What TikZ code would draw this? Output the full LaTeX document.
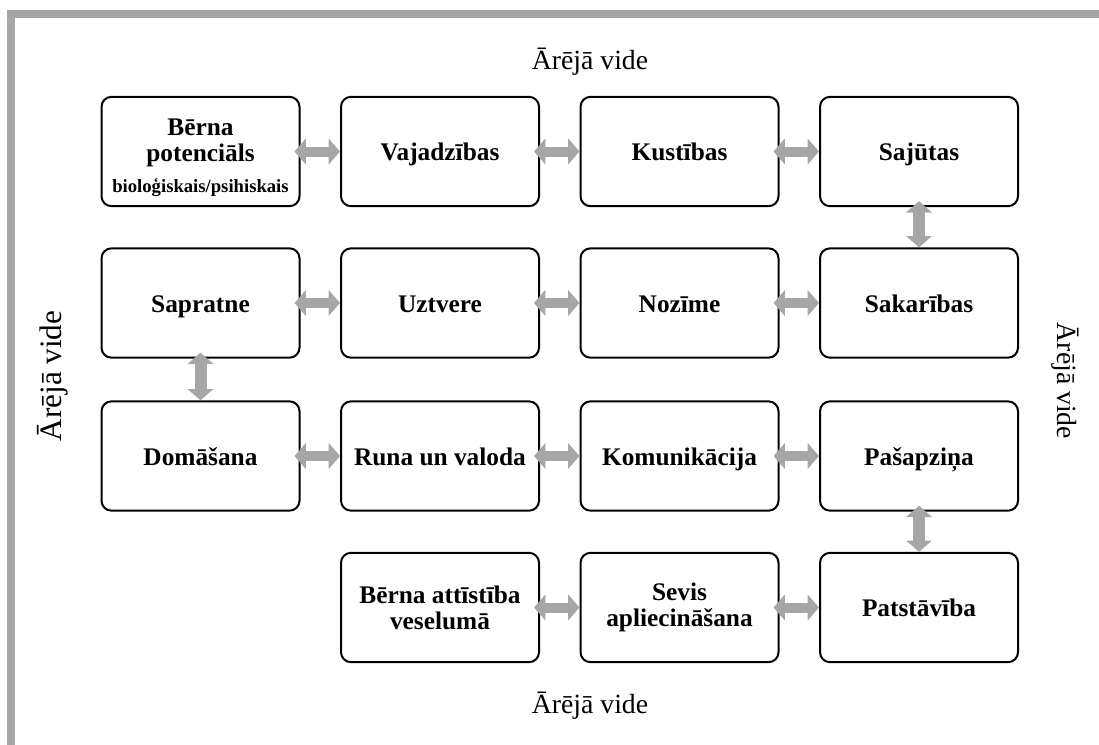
\documentclass[tikz,border=0pt]{standalone}
\usepackage{fontspec}
\setmainfont{Liberation Serif}
\usetikzlibrary{arrows.meta}
\definecolor{linkgray}{HTML}{A6A6A6}
\begin{document}
\begin{tikzpicture}[x=0.75pt,y=-0.75pt,
  stage/.style={draw, line width=1.5pt, rounded corners=7.5pt, fill=white,
    minimum width=148.5pt, minimum height=82pt, inner sep=0pt, align=center,
    font=\fontsize{19}{19.5}\selectfont\bfseries},
  single/.style={stage, text height=17pt, text depth=3.2pt},
  link/.style={draw=linkgray, line width=7.5pt,
    {Triangle[length=8.5pt 0, width=19pt 0]}-{Triangle[length=8.5pt 0, width=19pt 0]},
    shorten <=-4.5pt},
  vlink/.style={link, line width=9pt},
  surround/.style={inner sep=0pt, font=\fontsize{20.8}{24}\selectfont}]

% page area and the grey frame that runs off the right and bottom edges
\useasboundingbox (0,0) rectangle (1099,744);
\clip (0,0) rectangle (1099,744);
\draw[linkgray, line width=6pt] (11,14) rectangle (1140,790);

% surrounding environment labels
\node[surround] (top) at (590,62) {Ārējā vide};
\node[surround] (bottom) at (590,706) {Ārējā vide};
\node[surround, font=\fontsize{23.4}{26}\selectfont, rotate=90] (left) at (53,376) {Ārējā vide};
\node[surround, rotate=-90] (right) at (1065,381) {Ārējā vide};

% row 1
\node[stage] (potential) at (200.5,151.5) {\rule{0pt}{22pt}Bērna\\potenciāls\\[3.5pt]{\fontsize{14}{14}\selectfont bioloģiskais/psihiskais}};
\node[single] (needs)     at (440,151.5) {Vajadzības};
\node[single] (moves)     at (679.5,151.5) {Kustības};
\node[single] (senses)    at (919,151.5) {Sajūtas};
% row 2
\node[single] (reason)    at (200.5,303) {Sapratne};
\node[single] (percept)   at (440,303) {Uztvere};
\node[single] (meaning)   at (679.5,303) {Nozīme};
\node[single] (links)     at (919,303) {Sakarības};
% row 3
\node[single] (thinking)  at (200.5,456) {Domāšana};
\node[single] (speech)    at (440,456) {Runa un valoda};
\node[single] (comm)      at (679.5,456) {Komunikācija};
\node[single] (selfaware) at (919,456) {Pašapziņa};
% row 4
\node[stage] (whole)     at (440,607.5) {Bērna attīstība\\veselumā};
\node[stage] (assert)    at (679.5,607.5) {Sevis\\apliecināšana};
\node[single] (indep)     at (919,607.5) {Patstāvība};

% horizontal links
\draw[link] (potential.east) -- (needs.west);
\draw[link] (needs.east) -- (moves.west);
\draw[link] (moves.east) -- (senses.west);
\draw[link] (reason.east) -- (percept.west);
\draw[link] (percept.east) -- (meaning.west);
\draw[link] (meaning.east) -- (links.west);
\draw[link] (thinking.east) -- (speech.west);
\draw[link] (speech.east) -- (comm.west);
\draw[link] (comm.east) -- (selfaware.west);
\draw[link] (whole.east) -- (assert.west);
\draw[link] (assert.east) -- (indep.west);

% vertical links
\draw[vlink] (senses.south) -- (links.north);
\draw[vlink] (reason.south) -- (thinking.north);
\draw[vlink] (selfaware.south) -- (indep.north);
\end{tikzpicture}
\end{document}
